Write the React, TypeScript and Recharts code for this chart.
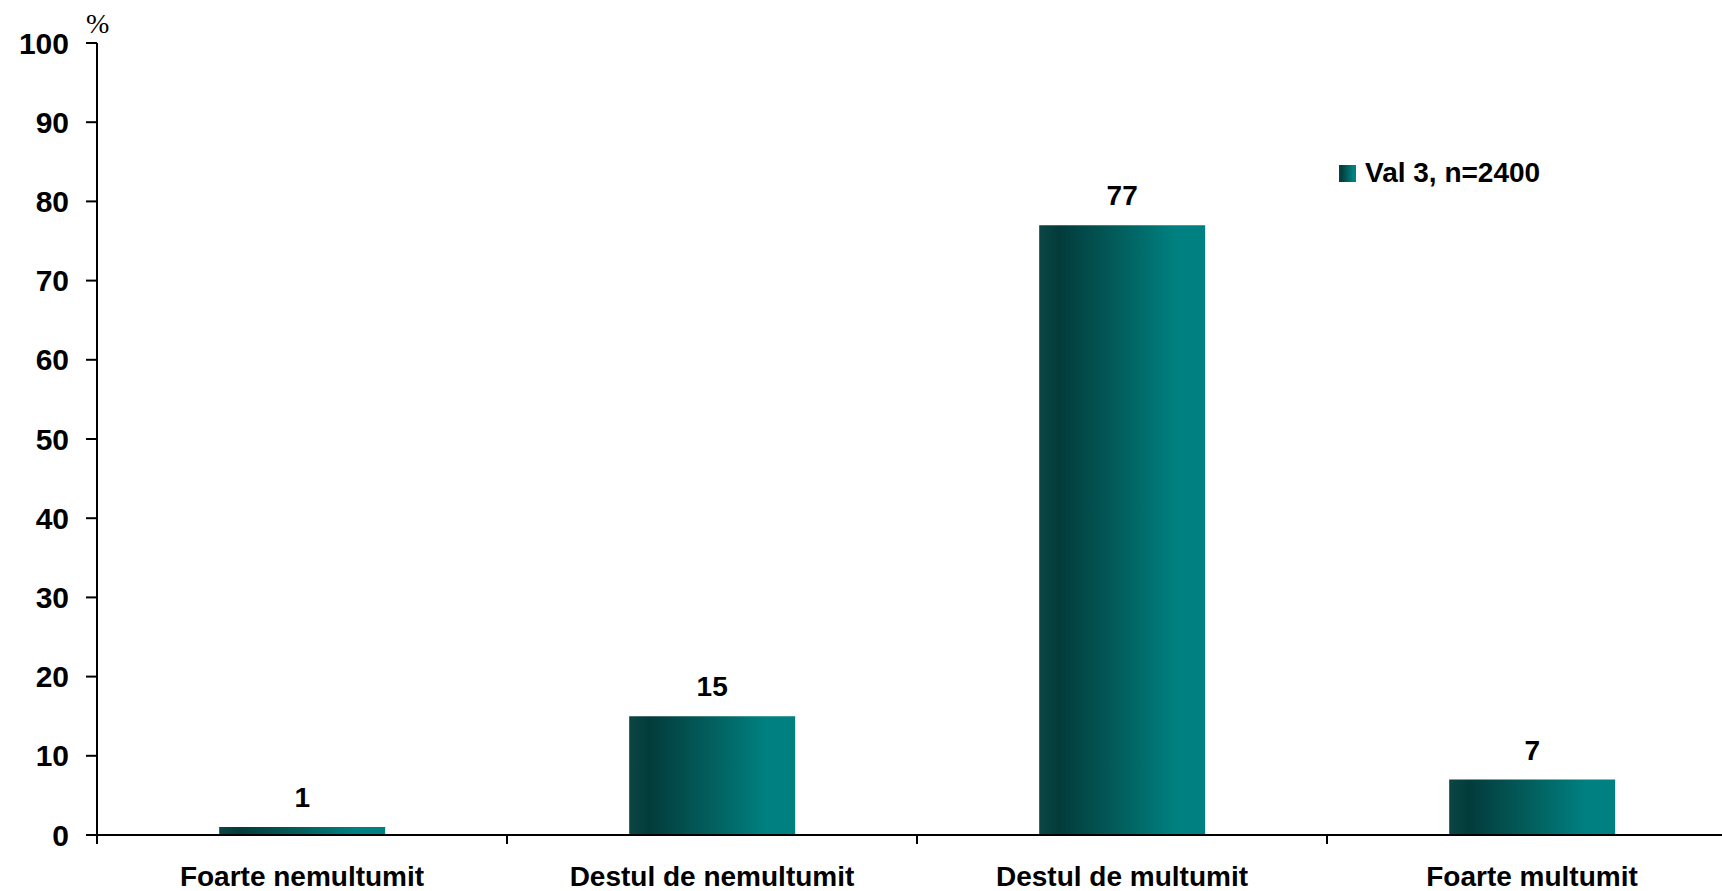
import { BarChart, Bar, XAxis, YAxis, LabelList } from "recharts";

const categories = [
  "Foarte nemultumit",
  "Destul de nemultumit",
  "Destul de multumit",
  "Foarte multumit",
];
const values = [1, 15, 77, 7];
const yTicks = [0, 10, 20, 30, 40, 50, 60, 70, 80, 90, 100];
const seriesName = "Val 3, n=2400";
const unitLabel = "%";

const data = categories.map((categorie, i) => ({ categorie, val: values[i] }));

const FONT = "'Liberation Sans', Arial, sans-serif";
const CHART_W = 1740;
const CHART_H = 891;
const Y_AXIS_W = 97;
const MARGIN_R = 3;
const BAND = (CHART_W - Y_AXIS_W - MARGIN_R) / categories.length;

const GradientStops = () => (
  <>
    <stop offset="0%" stopColor="#0b4644" />
    <stop offset="12%" stopColor="#033b3b" />
    <stop offset="50%" stopColor="#02605e" />
    <stop offset="82%" stopColor="#008080" />
    <stop offset="100%" stopColor="#008080" />
  </>
);

const CategoryTick = ({ x, y, payload }: any) => (
  <g>
    <line x1={x - BAND / 2} y1={y} x2={x - BAND / 2} y2={y + 9} stroke="#000" strokeWidth={2} />
    <text
      x={x}
      y={y + 51}
      textAnchor="middle"
      fill="#000"
      fontSize={28}
      fontWeight={700}
      fontFamily={FONT}
    >
      {payload.value}
    </text>
  </g>
);

export default function App() {
  return (
    <div
      style={{
        position: "absolute",
        left: 0,
        top: 0,
        width: 1722,
        height: 891,
        overflow: "hidden",
        background: "#fff",
      }}
    >
      <BarChart
        width={CHART_W}
        height={CHART_H}
        data={data}
        margin={{ top: 43, right: MARGIN_R, left: 0, bottom: 0 }}
        barCategoryGap="29.8%"
      >
        <defs>
          <linearGradient id="barGrad" x1="0" y1="0" x2="1" y2="0">
            <GradientStops />
          </linearGradient>
        </defs>
        <XAxis
          dataKey="categorie"
          height={56}
          interval={0}
          tickSize={0}
          tickMargin={0}
          axisLine={{ stroke: "#000", strokeWidth: 2 }}
          tickLine={false}
          tick={<CategoryTick />}
        />
        <YAxis
          domain={[0, 100]}
          ticks={yTicks}
          interval={0}
          width={Y_AXIS_W}
          tickSize={11}
          tickMargin={17}
          axisLine={{ stroke: "#000", strokeWidth: 2 }}
          tickLine={{ stroke: "#000", strokeWidth: 2 }}
          tick={{ fill: "#000", fontSize: 30, fontWeight: 700, fontFamily: FONT }}
        />
        <Bar dataKey="val" name={seriesName} fill="url(#barGrad)" isAnimationActive={false}>
          <LabelList
            dataKey="val"
            position="top"
            offset={20}
            fill="#000"
            fontSize={28}
            fontWeight={700}
            fontFamily={FONT}
          />
        </Bar>
      </BarChart>

      {/* unit label above the y axis */}
      <div
        style={{
          position: "absolute",
          left: 86,
          top: 8,
          fontFamily: "'Liberation Serif', 'Times New Roman', serif",
          fontSize: 28,
          color: "#000",
        }}
      >
        {unitLabel}
      </div>

      {/* legend */}
      <div
        style={{
          position: "absolute",
          left: 1339,
          top: 157,
          display: "flex",
          alignItems: "center",
          fontFamily: FONT,
          fontWeight: 700,
          fontSize: 28,
          color: "#000",
        }}
      >
        <svg width={17} height={17}>
          <defs>
            <linearGradient id="legendGrad" x1="0" y1="0" x2="1" y2="0">
              <GradientStops />
            </linearGradient>
          </defs>
          <rect width={17} height={17} fill="url(#legendGrad)" />
        </svg>
        <span style={{ marginLeft: 9 }}>{seriesName}</span>
      </div>
    </div>
  );
}
